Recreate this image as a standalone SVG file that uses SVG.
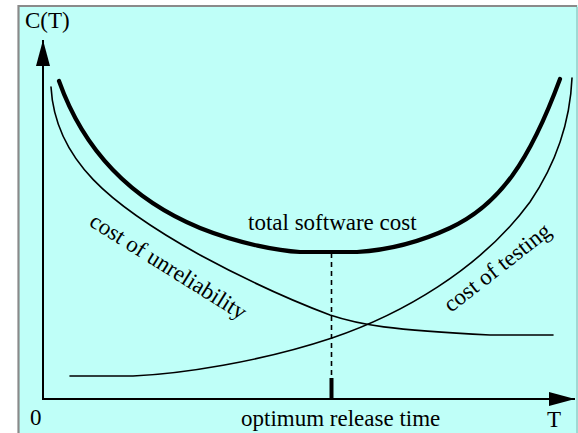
<svg xmlns="http://www.w3.org/2000/svg" width="578" height="433" viewBox="0 0 578 433">
<defs>
<style>
.c{fill:none;stroke:#000;stroke-width:1.6;stroke-linejoin:round;stroke-linecap:round}
.thick{fill:none;stroke:#000;stroke-width:4.2;stroke-linejoin:round;stroke-linecap:round}
.ax{fill:none;stroke:#000;stroke-width:2}
</style>
<marker id="ah" markerWidth="26" markerHeight="14" refX="26" refY="7" orient="auto" markerUnits="userSpaceOnUse">
<path d="M0,0 L26,7 L0,14 Z" fill="#000"/>
</marker>
</defs>
<rect x="0" y="0" width="578" height="433" fill="#fff"/>
<rect x="18" y="5" width="560" height="428" fill="#bffff8"/>
<path d="M18.5,433 V6 H577" fill="none" stroke="#8a8a8a" stroke-width="2.2"/>
<line x1="577" y1="7" x2="577" y2="433" stroke="#7fb5b0" stroke-width="1"/>
<g id="axes">
<line class="ax" x1="43" y1="399" x2="43" y2="40" marker-end="url(#ah)"/>
<line class="ax" x1="42" y1="399" x2="575" y2="399" marker-end="url(#ah)"/>
</g>
<g id="connectors">
<path id="total" class="thick" d="M59,81 C80,140 120,195 200,228 C240,244 280,251 300,252 L357,252 C390,250 420,242 450,228 C500,205 530,160 560,79"/>
<path id="unreliability" class="c" d="M51,87 C55,160 110,205 200,255 C250,282 290,300 330,315 C360,325 390,330 490,335 L553,335"/>
<path id="testing" class="c" d="M70,376 L133,376 C180,374 260,362 332,338 C400,315 480,270 530,202 C555,165 570,125 572,78"/>
<line x1="331.5" y1="253" x2="331.5" y2="378" stroke="#000" stroke-width="1.6" stroke-dasharray="5,4"/>
<line x1="331.5" y1="378" x2="331.5" y2="400" stroke="#000" stroke-width="4"/>
</g>
<g id="labels" font-family="'Liberation Serif', 'Times New Roman', serif" font-size="23" fill="#000">
<text x="25" y="28">C(T)</text>
<text x="30" y="425">0</text>
<text x="547" y="427">T</text>
<text x="248" y="230">total software cost</text>
<text x="241" y="426">optimum release time</text>
<text transform="translate(88,225) rotate(32)">cost of unreliability</text>
<text transform="translate(451,313) rotate(-38)">cost of testing</text>
</g>
</svg>
